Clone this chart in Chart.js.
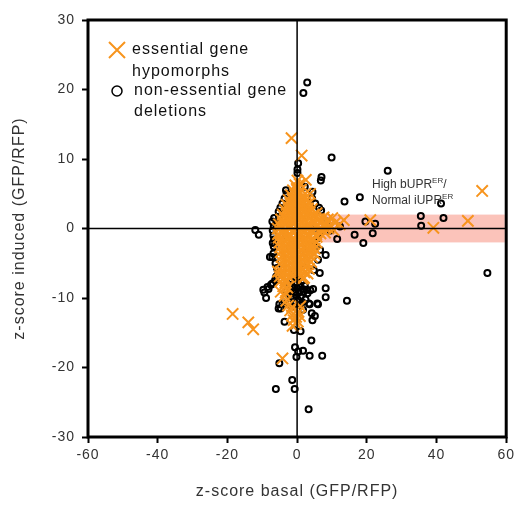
<!DOCTYPE html>
<html>
<head>
<meta charset="utf-8">
<script src="https://cdn.jsdelivr.net/npm/chart.js@4.4.1/dist/chart.umd.min.js"></script>
<style>
  body { margin: 0; background: #fff; }
</style>
</head>
<body>
<canvas id="myChart" width="519" height="509"></canvas>
<script>
// Datos: ejes
const xTicks = [-60, -40, -20, 0, 20, 40, 60];
const yTicks = [-30, -20, -10, 0, 10, 20, 30];
const legendLabels = [['essential gene', 'hypomorphs'], ['non-essential gene', 'deletions']];
const bandX = [6.5, 59.6];
const bandY = [-2, 2];

// Datos: essential gene hypomorphs (x basal, y induced)
const essentialPts = [
  [-1.6,13.0],[1.3,10.5],[2.5,7.0],[3.7,5.0],[13.4,1.2],[21.0,1.2],[53.1,5.4],[49.0,1.1],[39.1,0.1],
  [-18.5,-12.3],[-14.0,-13.5],[-12.6,-14.5],[-4.2,-18.7],[-1.3,-14.0],[-0.3,-13.7],[0.8,-12.6],
  [1.5,-7.2],[-3.4,-7.5],[-4.7,-9.1],[-5.5,-6.2],
  [0.1,6.9],[-0.5,6.2],[0.7,6.4],[-1.2,5.5],[-0.1,5.7],[1.1,5.6],
  [-1.8,4.8],[-0.6,5.0],[0.4,4.9],[1.6,4.7],[2.4,5.0],
  [-2.4,4.1],[-1.3,4.3],[-0.2,4.2],[0.9,4.0],[2.0,4.3],[3.0,4.1],
  [-3.0,3.4],[-1.9,3.6],[-0.8,3.5],[0.3,3.3],[1.4,3.6],[2.5,3.4],[3.4,3.6],
  [-3.5,2.7],[-2.4,2.9],[-1.3,2.8],[-0.2,2.6],[0.9,2.9],[2.0,2.7],[3.1,2.9],[4.2,2.8],
  [-4.1,2.0],[-3.0,2.2],[-1.9,2.1],[-0.8,1.9],[0.3,2.2],[1.4,2.0],[2.5,2.1],[3.6,2.3],[4.7,2.0],[5.6,2.2],
  [-4.6,1.3],[-3.5,1.5],[-2.4,1.4],[-1.3,1.2],[-0.2,1.5],[0.9,1.3],[2.0,1.4],[3.1,1.6],[4.2,1.3],[5.3,1.5],[6.4,1.4],[7.6,1.6],[8.8,1.3],[10.1,1.5],
  [-5.2,0.6],[-4.1,0.8],[-3.0,0.7],[-1.9,0.5],[-0.8,0.8],[0.3,0.6],[1.4,0.7],[2.5,0.9],[3.6,0.6],[4.7,0.8],[5.8,0.6],[6.9,0.9],[8.1,0.7],[9.4,0.5],[10.9,0.8],[12.2,0.6],
  [-5.6,0.0],[-4.5,0.2],[-3.4,-0.1],[-2.3,0.1],[-1.2,-0.2],[-0.1,0.1],[1.0,-0.1],[2.1,0.2],[3.2,0.0],[4.3,-0.2],[5.4,0.1],[6.5,-0.1],[7.7,0.2],[9.0,0.0],[10.4,-0.2],
  [-5.5,-0.8],[-4.4,-0.6],[-3.3,-0.7],[-2.2,-0.9],[-1.1,-0.6],[0.0,-0.8],[1.1,-0.7],[2.2,-0.5],[3.3,-0.8],[4.4,-0.6],[5.5,-0.9],[6.7,-0.7],[8.0,-0.6],
  [-5.3,-1.3],[-4.2,-1.5],[-3.1,-1.4],[-2.0,-1.2],[-0.9,-1.5],[0.2,-1.3],[1.3,-1.4],[2.4,-1.6],[3.5,-1.3],[4.6,-1.5],[5.6,-1.2],
  [-5.1,-2.0],[-4.0,-2.2],[-2.9,-2.1],[-1.8,-1.9],[-0.7,-2.2],[0.4,-2.0],[1.5,-2.1],[2.6,-2.3],[3.7,-2.0],[4.8,-2.2],[5.6,-2.0],
  [-4.9,-2.7],[-3.8,-2.9],[-2.7,-2.8],[-1.6,-2.6],[-0.5,-2.9],[0.6,-2.7],[1.7,-2.8],[2.8,-3.0],[3.9,-2.7],[5.0,-2.9],
  [-4.7,-3.4],[-3.6,-3.6],[-2.5,-3.5],[-1.4,-3.3],[-0.3,-3.6],[0.8,-3.4],[1.9,-3.5],[3.0,-3.7],[4.1,-3.4],[5.0,-3.6],
  [-4.5,-4.1],[-3.4,-4.3],[-2.3,-4.2],[-1.2,-4.0],[-0.1,-4.3],[1.0,-4.1],[2.1,-4.2],[3.2,-4.4],[4.3,-4.1],
  [-4.4,-4.8],[-3.3,-5.0],[-2.2,-4.9],[-1.1,-4.7],[0.0,-5.0],[1.1,-4.8],[2.2,-4.9],[3.3,-5.1],[4.0,-4.8],
  [-4.3,-5.5],[-3.2,-5.7],[-2.1,-5.6],[-1.0,-5.4],[0.1,-5.7],[1.2,-5.5],[2.3,-5.6],[3.4,-5.8],
  [-4.6,-6.2],[-3.4,-6.4],[-2.3,-6.3],[-1.2,-6.1],[-0.1,-6.4],[1.0,-6.2],[2.1,-6.3],[3.0,-6.5],
  [-5.0,-6.9],[-3.6,-7.1],[-2.4,-7.0],[-1.3,-6.8],[0.9,-6.9],[2.0,-7.1],
  [-4.8,-7.6],[-3.3,-7.8],
  [-4.0,-8.3],[-2.8,-8.5],[-3.3,-9.2],[-3.6,-9.7],
  [-3.1,-10.4],[-2.6,-11.1],[-1.4,-11.3],[0.9,-11.2],
  [-2.0,-11.8],[0.4,-12.0],[-1.5,-12.5],[-0.3,-12.7],[-1.0,-13.2],[0.2,-13.4]
];

// Datos: non-essential gene deletions
const deletionPts = [
  [2.9,21.0],[1.8,19.5],[9.9,10.2],[26.0,8.3],[7.0,7.4],[6.8,6.9],[0.3,9.4],[0.1,8.5],[0.1,8.0],
  [13.6,3.9],[18.0,4.5],[41.3,3.6],[35.5,1.8],[35.6,0.4],[42.0,1.5],[54.6,-6.4],
  [19.6,1.0],[22.4,0.7],[12.3,0.3],[11.5,-1.5],[16.5,-0.9],[21.7,-0.7],[19.0,-2.1],
  [-12.0,-0.2],[-11.0,-0.9],
  [-3.2,5.5],[-3.0,5.0],[-3.6,4.3],[-4.2,3.6],[-4.8,3.0],[-5.3,2.4],[-5.2,1.7],[-6.6,1.5],[-7.1,1.0],
  [-6.0,0.6],[-6.7,0.3],[-7.0,-0.3],[-6.8,-1.0],[-6.6,-1.6],
  [4.4,5.3],[4.3,4.3],[5.2,3.6],[6.3,3.0],[6.9,2.6],[2.2,6.0],
  [5.3,-0.2],[6.3,-0.7],[5.8,-1.4],[4.9,-1.9],[8.4,1.0],[9.6,-0.3],
  [-7.0,-2.1],[-6.7,-2.6],[-6.8,-3.6],[-7.1,-4.1],[-7.8,-4.1],[-6.2,-5.0],[-5.8,-5.7],[-5.4,-6.4],
  [-6.0,-6.9],[-6.3,-7.4],[-6.9,-7.9],[-7.5,-8.1],[-8.5,-8.4],[-9.4,-9.2],[-9.7,-8.8],[-8.9,-10.0],
  [-8.2,-8.7],[-7.1,-7.9],[-4.2,-10.8],[-4.7,-11.5],[-5.1,-10.9],[-5.3,-11.5],[-2.3,-10.8],
  [8.2,-3.8],[6.5,-6.4],[8.2,-8.6],[8.2,-9.9],[14.3,-10.4],[6.6,-3.1],[6.0,-4.5],[4.8,-6.0],
  [5.8,-10.8],[3.4,-10.8],[6.0,-10.9],[3.6,-10.9],[4.2,-12.2],[5.1,-12.6],[4.4,-13.2],[1.7,-11.7],
  [-3.6,-13.4],[1.0,-14.8],[-0.9,-14.6],[4.1,-16.1],[-0.6,-17.1],[0.3,-17.7],[1.7,-17.6],[-0.2,-18.5],
  [3.6,-18.3],[7.2,-18.3],[-5.1,-19.4],[-1.4,-21.8],[-6.1,-23.1],[-0.7,-23.1],[3.3,-26.0],
  [-0.8,-7.0],[0.4,-7.3],[1.3,-7.6],[-0.3,-7.9],[0.8,-8.2],[-1.2,-8.4],[0.0,-8.6],[1.6,-8.7],
  [2.7,-8.8],[3.8,-8.9],[-1.8,-8.9],[-0.6,-9.1],[0.6,-9.2],[1.9,-9.1],[3.0,-9.3],[-0.2,-9.6],
  [1.0,-9.8],[-1.0,-10.0],[0.3,-10.3],[-0.5,-10.8],[0.8,-11.0],[0.1,-11.6],[-1.4,-11.2],[2.4,-10.2],
  [-2.5,-9.6],[-3.0,-9.0],[-2.2,-8.1],[-1.6,-7.6],[2.2,-8.2],[4.6,-8.7],[-1.9,-9.9],[1.5,-10.6],
  [0.5,3.0],[-1.0,1.0],[2.0,-1.0],[-2.0,-3.0],[1.5,-5.0],[-1.0,-6.0],[2.5,-3.5],[-3.2,-1.0],[3.8,0.4],[-1.5,4.0]
];

const orange = '#F7941D';
const fontFam = '"Liberation Sans", Arial, sans-serif';

// Espaciado de letras como en la figura original
const spacing = {
  id: 'spacing',
  beforeLayout(chart) { chart.ctx.letterSpacing = '1px'; },
  beforeDraw(chart) { chart.ctx.letterSpacing = '1px'; }
};

// Dibujo de banda, ejes en cero, borde, leyenda y anotación
const decorations = {
  id: 'decorations',
  beforeDatasetsDraw(chart) {
    const {ctx, scales: {x, y}} = chart;
    ctx.save();
    ctx.fillStyle = 'rgba(249,172,160,0.72)';
    const x0 = x.getPixelForValue(bandX[0]), x1 = x.getPixelForValue(bandX[1]);
    const y0 = y.getPixelForValue(bandY[1]), y1 = y.getPixelForValue(bandY[0]);
    ctx.fillRect(x0, y0, x1 - x0, y1 - y0);
    ctx.restore();
  },
  afterDatasetsDraw(chart) {
    const {ctx, chartArea: a, scales: {x, y}} = chart;
    ctx.save();
    // líneas en cero
    ctx.strokeStyle = '#000';
    ctx.lineWidth = 1.5;
    ctx.beginPath();
    const zx = x.getPixelForValue(0), zy = y.getPixelForValue(0);
    ctx.moveTo(zx, a.top); ctx.lineTo(zx, a.bottom);
    ctx.moveTo(a.left, zy); ctx.lineTo(a.right, zy);
    ctx.stroke();
    // borde
    ctx.lineWidth = 3;
    ctx.strokeRect(a.left, a.top, a.right - a.left, a.bottom - a.top);

    // leyenda
    const lx = a.left + 29;
    ctx.strokeStyle = orange;
    ctx.lineWidth = 2;
    ctx.beginPath();
    ctx.moveTo(lx - 8, a.top + 22); ctx.lineTo(lx + 8, a.top + 38);
    ctx.moveTo(lx + 8, a.top + 22); ctx.lineTo(lx - 8, a.top + 38);
    ctx.stroke();
    ctx.strokeStyle = '#000';
    ctx.lineWidth = 1.5;
    ctx.beginPath();
    ctx.arc(lx, a.top + 71, 5, 0, Math.PI * 2);
    ctx.stroke();
    ctx.fillStyle = '#111';
    ctx.font = '16px ' + fontFam;
    ctx.letterSpacing = '1px';
    ctx.textBaseline = 'middle';
    ctx.textAlign = 'left';
    ctx.fillText(legendLabels[0][0], a.left + 44, a.top + 30);
    ctx.fillText(legendLabels[0][1], a.left + 44, a.top + 52);
    ctx.fillText(legendLabels[1][0], a.left + 46, a.top + 71);
    ctx.fillText(legendLabels[1][1], a.left + 46, a.top + 92);

    // anotación
    ctx.letterSpacing = '0px';
    const tx = x.getPixelForValue(21.5);
    const drawSup = (base, sup, tail, py) => {
      ctx.font = '12px ' + fontFam;
      ctx.fillStyle = '#333';
      ctx.fillText(base, tx, py);
      let w = ctx.measureText(base).width;
      ctx.font = '8px ' + fontFam;
      ctx.fillText(sup, tx + w, py - 4);
      w += ctx.measureText(sup).width;
      ctx.font = '12px ' + fontFam;
      ctx.fillText(tail, tx + w, py);
    };
    drawSup('High bUPR', 'ER', '/', y.getPixelForValue(6.3));
    drawSup('Normal iUPR', 'ER', '', y.getPixelForValue(4.0));
    ctx.restore();
  }
};

const data = {
  datasets: [
    {
      label: 'essential gene hypomorphs',
      data: essentialPts.map(([a, b]) => ({x: a, y: b})),
      pointStyle: 'crossRot',
      pointRadius: 8,
      borderColor: orange,
      backgroundColor: orange,
      pointBorderWidth: 2,
      order: 0
    },
    {
      label: 'non-essential gene deletions',
      data: deletionPts.map(([a, b]) => ({x: a, y: b})),
      pointStyle: 'circle',
      pointRadius: 3,
      borderColor: '#000',
      backgroundColor: 'rgba(0,0,0,0)',
      pointBorderWidth: 2,
      order: 1
    }
  ]
};

const tickFont = {family: fontFam, size: 14};

const config = {
  type: 'scatter',
  data,
  plugins: [spacing, decorations],
  options: {
    responsive: false,
    animation: false,
    layout: {padding: {top: 20, right: 11, left: 0, bottom: 0}},
    plugins: {legend: {display: false}, tooltip: {enabled: false}},
    scales: {
      x: {
        type: 'linear', min: -60, max: 60,
        afterFit: (s) => { s.height = 72; },
        afterBuildTicks: (s) => { s.ticks = xTicks.map(v => ({value: v})); },
        ticks: {color: '#333', font: tickFont, padding: 4, maxRotation: 0},
        grid: {drawOnChartArea: false, drawTicks: true, tickLength: 6, tickColor: '#000', tickWidth: 2},
        border: {display: false},
        title: {display: true, text: 'z-score basal (GFP/RFP)', color: '#333',
                font: {family: fontFam, size: 16}, padding: {top: 8, bottom: 8}}
      },
      y: {
        type: 'linear', min: -30, max: 30,
        afterFit: (s) => { s.width = 88; },
        afterBuildTicks: (s) => { s.ticks = yTicks.map(v => ({value: v})); },
        ticks: {color: '#333', font: tickFont, padding: 7},
        grid: {drawOnChartArea: false, drawTicks: true, tickLength: 6, tickColor: '#000', tickWidth: 2},
        border: {display: false},
        title: {display: true, text: 'z-score induced (GFP/RFP)', color: '#333',
                font: {family: fontFam, size: 16}, padding: {top: 10, bottom: 10}}
      }
    }
  }
};

const myChart = document.getElementById('myChart');
new Chart(myChart, config);
</script>
</body>
</html>
